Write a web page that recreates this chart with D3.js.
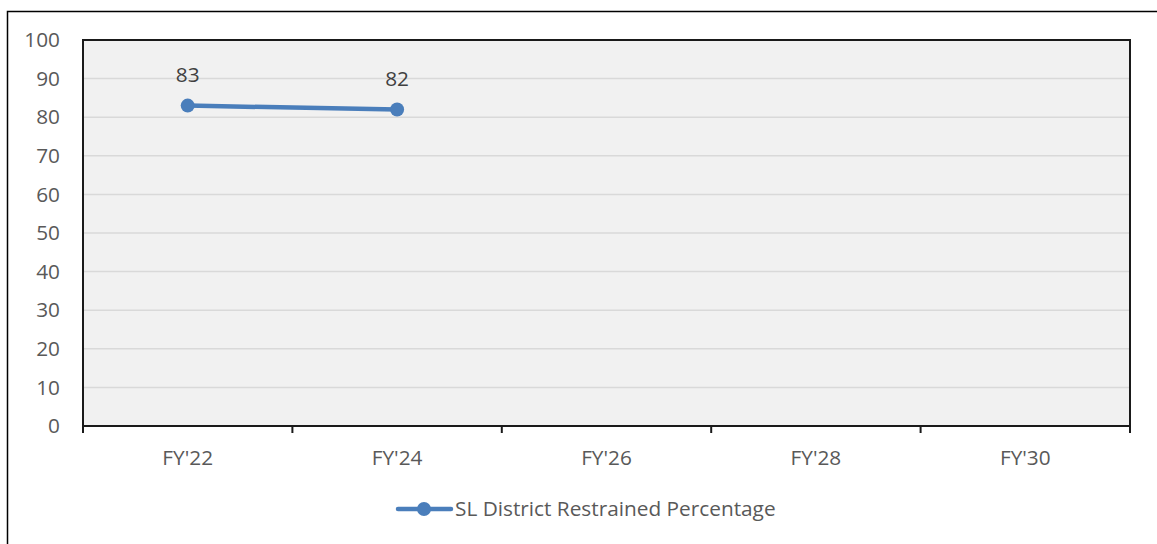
<!DOCTYPE html>
<html>
<head>
<meta charset="utf-8">
<script src="https://d3js.org/d3.v7.min.js"></script>
<style>
  body { margin: 0; background: #fff; }
  text { font-family: "Open Sans", "Noto Sans", sans-serif; fill: #595959; }
</style>
</head>
<body>
<script>
// chart values
var categories = ["FY'22", "FY'24", "FY'26", "FY'28", "FY'30"];
var restrained = [83, 82, null, null, null];
var yTicks = [0, 10, 20, 30, 40, 50, 60, 70, 80, 90, 100];
var seriesName = "SL District Restrained Percentage";

var width = 1157, height = 544;
var plot = { left: 83, top: 40, right: 1130, bottom: 426 };
var lineColor = "#4a7ebb";
var fs = "20.8px";

var svg = d3.select("body").append("svg")
    .attr("width", width)
    .attr("height", height);

// outer frame
svg.append("rect")
    .attr("x", 7.5).attr("y", 11.5)
    .attr("width", width + 10).attr("height", height + 10)
    .attr("fill", "none")
    .attr("stroke", "#000")
    .attr("stroke-width", 1.5);

var x = d3.scaleBand()
    .domain(categories)
    .range([plot.left, plot.right]);

var y = d3.scaleLinear()
    .domain([0, 100])
    .range([plot.bottom, plot.top]);

// plot background
svg.append("rect")
    .attr("x", plot.left).attr("y", plot.top)
    .attr("width", plot.right - plot.left)
    .attr("height", plot.bottom - plot.top)
    .attr("fill", "#f1f1f1");

// gridlines
svg.append("g")
    .selectAll("line")
    .data(yTicks.filter(function(d) { return d > 0 && d < 100; }))
    .enter().append("line")
    .attr("x1", plot.left).attr("x2", plot.right)
    .attr("y1", function(d) { return y(d); })
    .attr("y2", function(d) { return y(d); })
    .attr("stroke", "#d9d9d9")
    .attr("stroke-width", 1.5);

// plot border
svg.append("rect")
    .attr("x", plot.left).attr("y", plot.top)
    .attr("width", plot.right - plot.left)
    .attr("height", plot.bottom - plot.top)
    .attr("fill", "none")
    .attr("stroke", "#1a1a1a")
    .attr("stroke-width", 2);

// y axis labels
svg.append("g")
    .selectAll("text")
    .data(yTicks)
    .enter().append("text")
    .attr("x", 60)
    .attr("y", function(d) { return y(d); })
    .attr("dy", "0.35em")
    .attr("text-anchor", "end")
    .style("font-size", fs)
    .text(function(d) { return d; });

// x axis ticks at band boundaries
var bounds = categories.map(function(c) { return x(c); }).concat([plot.right]);
svg.append("g")
    .selectAll("line")
    .data(bounds)
    .enter().append("line")
    .attr("x1", function(d) { return d; })
    .attr("x2", function(d) { return d; })
    .attr("y1", plot.bottom)
    .attr("y2", plot.bottom + 7)
    .attr("stroke", "#1a1a1a")
    .attr("stroke-width", 2);

svg.append("g")
    .selectAll("text")
    .data(categories)
    .enter().append("text")
    .attr("x", function(d) { return x(d) + x.bandwidth() / 2; })
    .attr("y", 458)
    .attr("dy", "0.35em")
    .attr("text-anchor", "middle")
    .style("font-size", fs)
    .text(function(d) { return d; });

// series
var pts = categories.map(function(c, i) { return { cat: c, v: restrained[i] }; })
    .filter(function(d) { return d.v != null; });

var line = d3.line()
    .x(function(d) { return x(d.cat) + x.bandwidth() / 2; })
    .y(function(d) { return y(d.v); });

svg.append("path")
    .attr("d", line(pts))
    .attr("fill", "none")
    .attr("stroke", lineColor)
    .attr("stroke-width", 4.5)
    .attr("stroke-linecap", "round");

svg.append("g")
    .selectAll("circle")
    .data(pts)
    .enter().append("circle")
    .attr("cx", function(d) { return x(d.cat) + x.bandwidth() / 2; })
    .attr("cy", function(d) { return y(d.v); })
    .attr("r", 7)
    .attr("fill", lineColor);

svg.append("g")
    .selectAll("text")
    .data(pts)
    .enter().append("text")
    .attr("x", function(d) { return x(d.cat) + x.bandwidth() / 2; })
    .attr("y", function(d) { return y(d.v) - 31; })
    .attr("dy", "0.35em")
    .attr("text-anchor", "middle")
    .style("font-size", fs)
    .style("fill", "#404040")
    .text(function(d) { return d.v; });

// legend
var lg = svg.append("g").attr("transform", "translate(396,509)");
lg.append("line")
    .attr("x1", 2).attr("x2", 55)
    .attr("y1", 0).attr("y2", 0)
    .attr("stroke", lineColor)
    .attr("stroke-width", 4.5)
    .attr("stroke-linecap", "round");
lg.append("circle")
    .attr("cx", 28).attr("cy", 0).attr("r", 7)
    .attr("fill", lineColor);
lg.append("text")
    .attr("x", 59).attr("y", 0)
    .attr("dy", "0.35em")
    .style("font-size", fs)
    .text(seriesName);
</script>
</body>
</html>
